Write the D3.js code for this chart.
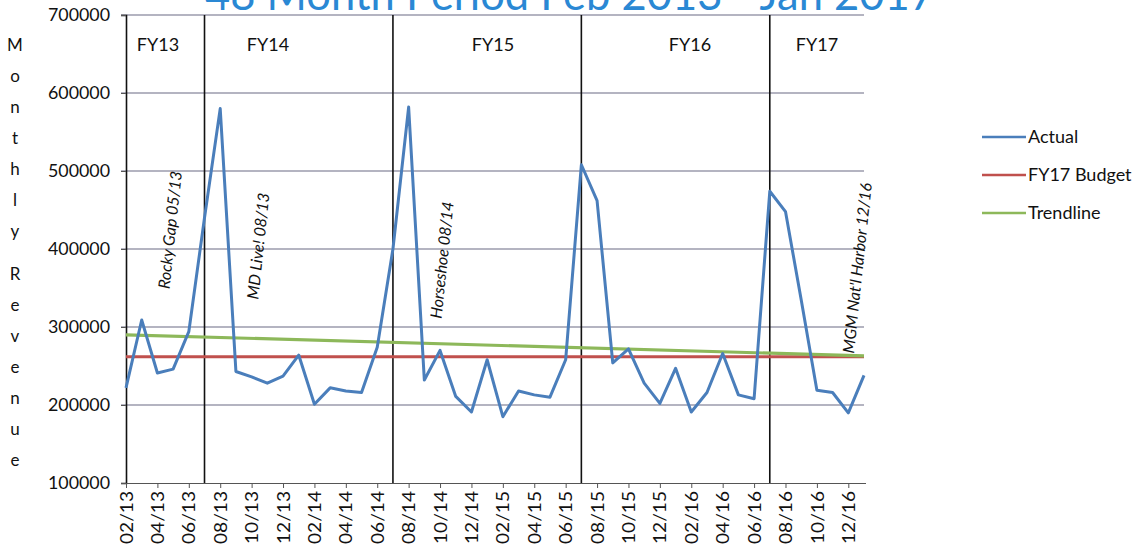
<!DOCTYPE html>
<html>
<head>
<meta charset="utf-8">
<script src="https://cdn.jsdelivr.net/npm/d3@7"></script>
<style>
  html, body { margin: 0; padding: 0; background: #fff; }
  svg { display: block; font-family: Lato, "Open Sans", sans-serif; }
</style>
</head>
<body>
<svg id="chart" width="1140" height="554"></svg>
<script>
// ---------- data ----------
const months = [
  "02/13","03/13","04/13","05/13","06/13",
  "07/13","08/13","09/13","10/13","11/13","12/13","01/14","02/14","03/14","04/14","05/14","06/14",
  "07/14","08/14","09/14","10/14","11/14","12/14","01/15","02/15","03/15","04/15","05/15","06/15",
  "07/15","08/15","09/15","10/15","11/15","12/15","01/16","02/16","03/16","04/16","05/16","06/16",
  "07/16","08/16","09/16","10/16","11/16","12/16","01/17"
];
const actual = [
  222000, 309000, 241000, 246000, 294000,
  440000, 580000, 243000, 236000, 228000, 237000, 264000, 201000, 222000, 218000, 216000, 274000,
  400000, 582000, 232000, 270000, 211000, 191000, 258000, 185000, 218000, 213000, 210000, 258000,
  508000, 462000, 254000, 272000, 228000, 202000, 247000, 191000, 216000, 266000, 213000, 208000,
  474000, 448000, 335000, 219000, 216000, 190000, 238000
];
const budgetFY17 = 262000;
const trendStart = 290000;   // trendline value at 02/13
const trendEnd = 263000;     // trendline value at 01/17
const tickLabels = ["02/13","04/13","06/13","08/13","10/13","12/13","02/14","04/14","06/14",
  "08/14","10/14","12/14","02/15","04/15","06/15","08/15","10/15","12/15","02/16","04/16",
  "06/16","08/16","10/16","12/16"];
const yTicks = [100000, 200000, 300000, 400000, 500000, 600000, 700000];
const fiscalYears = ["FY13", "FY14", "FY15", "FY16", "FY17"];
const fiscalStarts = ["02/13", "07/13", "07/14", "07/15", "07/16"];
const annotations = [
  { text: "Rocky Gap 05/13", month: "05/13" },
  { text: "MD Live! 08/13", month: "11/13" },
  { text: "Horseshoe 08/14", month: "10/14" },
  { text: "MGM Nat'l Harbor 12/16", month: "12/16" }
];
const legendItems = ["Actual", "FY17 Budget", "Trendline"];
const title = "48 Month Period Feb 2013 - Jan 2017";
const yTitle = "Monthly Revenue";

// ---------- layout ----------
const L = 126, R = 864, T = 15, B = 483;
const colors = { "Actual": "#4A7EBB", "FY17 Budget": "#C0504D", "Trendline": "#8DB85A" };
const svg = d3.select("#chart");

const x = d3.scalePoint().domain(months).range([L, R]);
const y = d3.scaleLinear().domain([100000, 700000]).range([B, T]);

// title (partially cut off at top, as in the source image)
svg.append("text")
  .attr("x", 205).attr("y", 10)
  .attr("textLength", 730).attr("lengthAdjust", "spacingAndGlyphs")
  .style("font-size", "44px").style("fill", "#2A88D4")
  .text(title);

// gridlines
svg.append("g").selectAll("line").data(yTicks.filter(d => d > 100000)).join("line")
  .attr("x1", L - 5).attr("x2", R)
  .attr("y1", d => y(d)).attr("y2", d => y(d))
  .attr("stroke", "#6a6a84").attr("stroke-width", 1.2);

// fiscal-year separators
svg.append("g").selectAll("line").data(fiscalStarts.slice(1)).join("line")
  .attr("x1", d => x(d)).attr("x2", d => x(d))
  .attr("y1", T).attr("y2", B)
  .attr("stroke", "#111").attr("stroke-width", 1.6);

// FY labels
const fyLabelX = [158, 268, 493, 690, 817];
svg.append("g").selectAll("text").data(fiscalYears).join("text")
  .attr("x", (d, i) => fyLabelX[i]).attr("y", 51)
  .attr("text-anchor", "middle")
  .style("font-size", "18px").style("fill", "#111")
  .text(d => d);

// y axis
const yAxis = svg.append("g").attr("transform", `translate(${L},0)`)
  .call(d3.axisLeft(y).tickValues(yTicks).tickSize(5).tickPadding(11).tickFormat(d3.format("d")));
yAxis.select(".domain").attr("stroke", "#111").attr("stroke-width", 1.6);
yAxis.selectAll(".tick line").attr("stroke", "#555");
yAxis.selectAll("text")
  .attr("textLength", 62).attr("lengthAdjust", "spacingAndGlyphs")
  .style("font-size", "18px").style("fill", "#111").style("font-family", "Lato, sans-serif");

// x axis
const xAxis = svg.append("g").attr("transform", `translate(0,${B})`)
  .call(d3.axisBottom(x).tickValues(tickLabels).tickSize(5).tickSizeOuter(0));
xAxis.select(".domain").attr("stroke", "#555").attr("d", `M${L - 5},0.5H${R + 2}`);
xAxis.selectAll(".tick line").attr("stroke", "#555");
xAxis.selectAll("text")
  .attr("transform", "rotate(-90)")
  .attr("x", -8).attr("y", 0).attr("dy", "0.36em")
  .attr("textLength", 53).attr("lengthAdjust", "spacingAndGlyphs")
  .style("text-anchor", "end").style("font-size", "17px").style("fill", "#111")
  .style("font-family", "Lato, sans-serif");

// budget line
svg.append("line")
  .attr("x1", L).attr("x2", R)
  .attr("y1", y(budgetFY17)).attr("y2", y(budgetFY17))
  .attr("stroke", colors["FY17 Budget"]).attr("stroke-width", 3);

// trendline
svg.append("line")
  .attr("x1", x(months[0])).attr("x2", x(months[months.length - 1]))
  .attr("y1", y(trendStart)).attr("y2", y(trendEnd))
  .attr("stroke", colors["Trendline"]).attr("stroke-width", 3.2);

// actual
svg.append("path")
  .datum(actual)
  .attr("fill", "none")
  .attr("stroke", colors["Actual"]).attr("stroke-width", 3)
  .attr("stroke-linejoin", "round")
  .attr("d", d3.line().x((d, i) => x(months[i])).y(d => y(d)));

// annotations
const annOffsets = [[-3, 230], [-9, 246], [2, 260], [9, 268]];
svg.append("g").selectAll("text").data(annotations).join("text")
  .attr("transform", (d, i) => `translate(${x(d.month) + annOffsets[i][0]},${annOffsets[i][1]}) rotate(-84)`)
  .attr("text-anchor", "middle").attr("dy", "0.35em")
  .style("font-size", "16px").style("font-style", "italic").style("fill", "#111")
  .text(d => d.text);

// y title (stacked letters)
const yt = svg.append("text").attr("x", 15).attr("y", 51)
  .attr("text-anchor", "middle")
  .style("font-size", "17px").style("fill", "#111");
const letters = yTitle.split("");
let extra = 0;
letters.forEach((ch, i) => {
  if (ch === " ") { extra = 12; return; }
  yt.append("tspan").attr("x", 15).attr("dy", i === 0 ? 0 : (31 + extra) + "px").text(ch);
  extra = 0;
});

// legend
const lg = svg.append("g").selectAll("g").data(legendItems).join("g")
  .attr("transform", (d, i) => `translate(982,${137 + i * 38})`);
lg.append("line").attr("x1", 0).attr("x2", 44).attr("y1", 0).attr("y2", 0)
  .attr("stroke", d => colors[d]).attr("stroke-width", 2.6);
lg.append("text").attr("x", 46).attr("dy", "0.35em")
  .style("font-size", "18px").style("fill", "#111")
  .text(d => d);
</script>
</body>
</html>
